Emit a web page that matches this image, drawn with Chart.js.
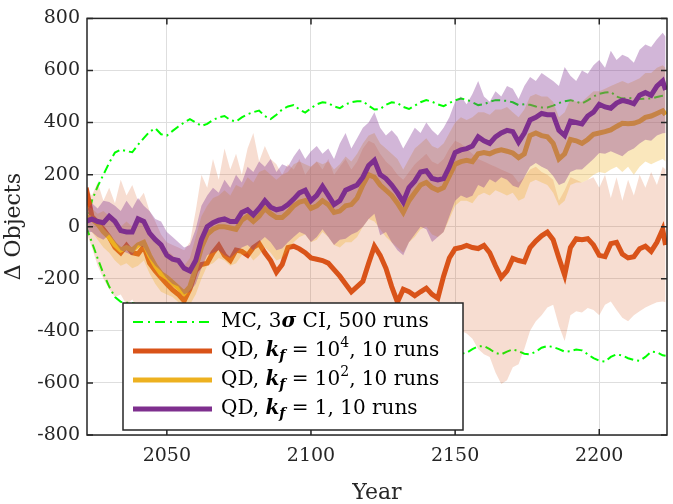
<!DOCTYPE html>
<html>
<head>
<meta charset="utf-8">
<script src="https://cdn.jsdelivr.net/npm/chart.js@4.4.1/dist/chart.umd.min.js"></script>
<style>
  html, body { margin: 0; padding: 0; background: #fff; }
  #wrap { width: 673px; height: 504px; }
</style>
</head>
<body>
<div id="wrap"><canvas id="grafico"></canvas></div>
<script>
// Years (2-year steps, last point at 2223)
const years = [
  2022, 2024, 2026, 2028, 2030, 2032, 2034, 2036, 2038, 2040,
  2042, 2044, 2046, 2048, 2050, 2052, 2054, 2056, 2058, 2060,
  2062, 2064, 2066, 2068, 2070, 2072, 2074, 2076, 2078, 2080,
  2082, 2084, 2086, 2088, 2090, 2092, 2094, 2096, 2098, 2100,
  2102, 2104, 2106, 2108, 2110, 2112, 2114, 2116, 2118, 2120,
  2122, 2124, 2126, 2128, 2130, 2132, 2134, 2136, 2138, 2140,
  2142, 2144, 2146, 2148, 2150, 2152, 2154, 2156, 2158, 2160,
  2162, 2164, 2166, 2168, 2170, 2172, 2174, 2176, 2178, 2180,
  2182, 2184, 2186, 2188, 2190, 2192, 2194, 2196, 2198, 2200,
  2202, 2204, 2206, 2208, 2210, 2212, 2214, 2216, 2218, 2220,
  2222, 2223
];

// MC 3-sigma confidence interval
const mcSuperior = [
  0, 100, 155, 200, 245, 285, 296, 290, 286, 315,
  340, 365, 378, 355, 350, 368, 385, 400, 413, 400,
  387, 395, 410, 420, 425, 410, 404, 420, 432, 440,
  446, 425, 413, 430, 450, 462, 467, 450, 438, 455,
  470, 478, 475, 462, 455, 470, 478, 482, 482, 465,
  450, 452, 468, 478, 475, 460, 452, 465, 478, 486,
  480, 470, 463, 475, 485, 492, 488, 478, 467, 470,
  480, 486, 485, 483, 478, 467, 470, 468, 462, 458,
  458, 465, 475, 482, 486, 480, 473, 485, 500, 510,
  515, 518, 500, 492, 495, 492, 490, 492, 492, 498,
  503, 505
];
const mcInferior = [
  0, -60, -122, -180, -230, -270, -288, -292, -293, -300,
  -330, -350, -360, -370, -375, -385, -395, -405, -410, -405,
  -400, -410, -420, -425, -420, -415, -425, -435, -440, -445,
  -440, -430, -440, -455, -460, -455, -450, -460, -470, -470,
  -465, -470, -480, -485, -475, -470, -475, -485, -490, -480,
  -470, -475, -485, -490, -485, -475, -480, -490, -495, -488,
  -480, -485, -495, -500, -495, -488, -484, -470, -460, -458,
  -470, -485, -490, -480, -471, -478, -488, -490, -480, -465,
  -458, -462, -470, -480, -478, -472, -475, -490, -505, -515,
  -518, -500, -490, -495, -505, -512, -515, -500, -480, -482,
  -494, -496
];

// QD, kf = 10^4
const qd1e4 = [
  150, 40, 15, -10, -40, -80, -100, -72, -100, -105,
  -75, -140, -170, -195, -220, -243, -260, -285, -240, -170,
  -145, -140, -100, -72, -110, -130, -90, -95, -110, -80,
  -65, -100, -130, -175, -145, -80, -75, -85, -100, -120,
  -125, -130, -140, -165, -190, -220, -250, -230, -210, -140,
  -75, -110, -160, -230, -290, -240, -250, -265, -250, -236,
  -260, -275, -190, -120, -85, -80, -72, -80, -84, -72,
  -100, -150, -195, -170, -122, -130, -135, -80, -55, -35,
  -21, -50, -120, -186, -80, -46, -50, -46, -70, -110,
  -115, -65, -60, -105, -120, -115, -85, -75, -95, -60,
  -10, -70
];
const qd1e4Sup = [
  150, 120, 170, 100, 150, 90, 180, 120, 160, 100,
  130, 60, 20, -30, -60, -70, -80, -90, -60, 60,
  200, 150, 260, 180, 300, 220, 280, 200, 300, 360,
  250, 310, 260, 240, 200, 240, 220, 260, 200, 230,
  250, 220, 260, 200, 230, 260, 220, 250, 300, 330,
  320, 280, 250, 230, 200, 180, 210, 240, 260, 280,
  250, 240, 260, 300, 330, 320, 300, 280, 260, 250,
  240, 230, 220, 210, 200, 170, 190, 220, 230, 210,
  200, 180, 100, 140, 190, 180, 170, 180, 190, 150,
  200, 110, 190, 100, 180, 120, 200, 150, 210, 160,
  230, 220
];
const qd1e4Inf = [
  -20, -80, -150, -200, -240, -270, -260, -300, -280, -320,
  -310, -330, -350, -360, -380, -400, -410, -420, -400, -380,
  -370, -360, -350, -360, -370, -380, -360, -370, -380, -370,
  -360, -380, -400, -420, -410, -380, -370, -380, -390, -400,
  -410, -420, -430, -450, -470, -490, -510, -500, -480, -440,
  -400, -420, -450, -490, -520, -500, -510, -520, -510, -500,
  -510, -520, -480, -440, -420, -400, -410, -430, -470, -490,
  -500, -560, -604, -590, -540, -528, -470, -400, -363, -340,
  -310, -300, -380, -439, -340, -325, -330, -312, -320, -340,
  -300, -287, -320, -350, -363, -340, -325, -310, -300, -290,
  -287, -290
];

// QD, kf = 10^2
const qd1e2 = [
  40, 30, 10, -20, -40, -70, -90, -80, -90, -70,
  -60, -110, -150, -180, -195, -215, -235, -255, -230, -160,
  -80, -30, -10, 0, 0, -5, -10, 25, 40, 20,
  40, 70, 50, 35, 35, 55, 80, 95, 100, 70,
  80, 100, 85, 55, 60, 80, 85, 110, 160, 200,
  190, 160, 140, 120, 90, 55, 100, 130, 160, 170,
  150, 140, 150, 195, 240, 250, 255, 250, 280, 285,
  280, 290, 295, 290, 283, 265, 280, 350, 360, 350,
  345, 320, 260, 280, 335, 330, 320, 335, 355, 360,
  365, 372, 385, 397, 395, 397, 405, 420, 425, 435,
  445, 430
];
const qd1e2Sup = [
  80, 70, 50, 60, 40, 20, 0, 20, 0, 30,
  20, -20, -50, -70, -90, -110, -130, -150, -120, -40,
  40, 80, 110, 120, 140, 120, 160, 150, 190, 170,
  210, 220, 200, 180, 200, 210, 240, 250, 240, 230,
  250, 240, 250, 220, 240, 270, 250, 280, 320, 350,
  360, 320, 300, 280, 260, 220, 260, 300, 320, 340,
  310, 300, 320, 360, 400, 420, 410, 420, 440, 440,
  430, 450, 450, 460, 440, 420, 450, 500, 510, 500,
  500, 480, 420, 440, 490, 480, 480, 500, 520, 520,
  530, 540, 550, 560, 550, 560, 570, 590, 590, 610,
  620, 610
];
const qd1e2Inf = [
  0, -20, -50, -80, -100, -130, -150, -140, -160, -150,
  -130, -180, -220, -250, -260, -270, -290, -310, -300, -260,
  -200, -150, -140, -120, -130, -150, -140, -110, -100, -130,
  -110, -80, -100, -130, -120, -90, -60, -40, -30, -60,
  -50, -20, -40, -70, -80, -60, -60, -40, 0, 30,
  20, -10, -40, -60, -80, -100, -60, -40, -10, 0,
  -30, -40, -20, 30, 80, 100, 100, 90, 120, 130,
  120, 140, 130, 120, 130, 100, 110, 170, 180, 170,
  160, 130, 80, 100, 160, 170, 170, 180, 200, 210,
  205, 220, 230, 210, 230, 200, 230, 250, 240, 250,
  260, 250
];

// QD, kf = 1
const qd1 = [
  20, 30, 20, 15, 40, 20, -15, -20, -20, 30,
  20, -25, -50, -70, -110, -125, -130, -160, -170, -130,
  -50, 0, 15, 25, 30, 20, 20, 55, 65, 45,
  70, 100, 75, 65, 70, 85, 106, 130, 140, 100,
  120, 155, 120, 85, 100, 140, 150, 160, 190, 235,
  255, 200, 185, 160, 130, 95, 150, 175, 210, 215,
  185, 180, 185, 230, 285, 295, 300, 310, 345, 330,
  320, 345, 360, 370, 365, 325, 360, 410, 420, 435,
  430, 430, 370, 350, 405, 400, 395, 425, 440, 470,
  460, 455, 475, 485, 480, 472, 505, 515, 505, 540,
  560, 525
];
const qd1Sup = [
  60, 90, 70, 100, 95, 80, 60, 100, 70, 110,
  80, 60, 30, 20, -20, -40, -60, -80, -70, -10,
  80, 120, 150, 130, 180, 150, 200, 170, 230, 210,
  250, 230, 260, 210, 240, 230, 270, 300, 260, 290,
  310, 280, 300, 260, 320, 360, 300, 340, 380, 400,
  440, 380, 350, 370, 345, 300, 340, 380, 360, 400,
  370, 350, 380, 420, 480, 500, 470, 510, 560, 500,
  480, 520, 500, 540, 530, 490, 540, 575, 560, 590,
  575, 560, 540, 613, 580, 560, 600, 587, 620, 640,
  610, 676, 640, 660, 651, 630, 680, 700, 690, 720,
  745, 730
];
const qd1Inf = [
  -20, -20, -40, -50, -30, -60, -90, -100, -110, -70,
  -80, -120, -150, -170, -200, -220, -230, -260, -250, -220,
  -160, -110, -100, -90, -110, -120, -100, -80, -70, -90,
  -60, -40, -60, -90, -84, -60, -40, -20, -30, -59,
  -40, -10, -40, -70, -50, -46, -30, -20, 0, 30,
  50, -33, -20, -60, -90, -110, -60, -30, 0, -10,
  -59, -40, -20, 40, 100, 120, 110, 119, 160, 150,
  182, 170, 190, 180, 157, 150, 190, 230, 245, 230,
  220, 195, 160, 170, 210, 220, 220, 240, 260, 283,
  280, 290, 280, 271, 290, 300, 320, 334, 330, 350,
  359, 360
];

const xTicks = [2050, 2100, 2150, 2200];
const yTicks = [-800, -600, -400, -200, 0, 200, 400, 600, 800];

const SERIF = '"DejaVu Serif", "Liberation Serif", serif';
const EJE = '#262626';
const NARANJA = '#D95319';
const AMARILLO = '#EDB120';
const MORADO = '#7E2F8E';
const VERDE = '#00FF00';

function pts(ys) {
  return ys.map((y, i) => ({ x: years[i], y: y }));
}

function linea(data, color, order) {
  return {
    data: pts(data), borderColor: color, borderWidth: 5, pointRadius: 0,
    fill: false, tension: 0, order: order, clip: 0
  };
}

function banda(data, color, target, order) {
  return {
    data: pts(data), borderWidth: 0, borderColor: 'rgba(0,0,0,0)', pointRadius: 0,
    backgroundColor: color, fill: target, tension: 0, order: order, clip: 0
  };
}

const datasets = [
  linea(qd1, MORADO, 0),                                   // 0
  banda(qd1Sup, 'rgba(126,47,142,0.35)', 2, 1),            // 1
  banda(qd1Inf, 'rgba(0,0,0,0)', false, 1),                // 2
  linea(qd1e2, AMARILLO, 2),                               // 3
  banda(qd1e2Sup, 'rgba(237,177,32,0.3)', 5, 3),           // 4
  banda(qd1e2Inf, 'rgba(0,0,0,0)', false, 3),              // 5
  linea(qd1e4, NARANJA, 4),                                // 6
  banda(qd1e4Sup, 'rgba(217,83,25,0.2)', 8, 5),            // 7
  banda(qd1e4Inf, 'rgba(0,0,0,0)', false, 5),              // 8
  { data: pts(mcSuperior), borderColor: VERDE, borderWidth: 2, borderDash: [9, 4, 2, 4],
    pointRadius: 0, fill: false, order: 6, clip: 0 },      // 9
  { data: pts(mcInferior), borderColor: VERDE, borderWidth: 2, borderDash: [9, 4, 2, 4],
    pointRadius: 0, fill: false, order: 6, clip: 0 }       // 10
];

// Box around the axes and inward tick marks
const marco = {
  id: 'marco',
  afterDraw(chart) {
    const { ctx, chartArea: a, scales } = chart;
    ctx.save();
    ctx.strokeStyle = EJE;
    ctx.lineWidth = 1.5;
    ctx.beginPath();
    xTicks.forEach(v => {
      const px = scales.x.getPixelForValue(v);
      ctx.moveTo(px, a.bottom); ctx.lineTo(px, a.bottom - 6);
      ctx.moveTo(px, a.top); ctx.lineTo(px, a.top + 6);
    });
    yTicks.forEach(v => {
      const py = scales.y.getPixelForValue(v);
      ctx.moveTo(a.left, py); ctx.lineTo(a.left + 6, py);
      ctx.moveTo(a.right, py); ctx.lineTo(a.right - 6, py);
    });
    ctx.stroke();
    ctx.strokeRect(a.left, a.top, a.right - a.left, a.bottom - a.top);
    ctx.restore();
  }
};

function textoRico(ctx, x, y, partes) {
  partes.forEach(p => {
    ctx.font = p.f;
    ctx.fillText(p.t, x, y + (p.dy || 0));
    x += ctx.measureText(p.t).width;
  });
}

// Legend box inside the plot
const leyenda = {
  id: 'leyenda',
  afterDraw(chart) {
    const ctx = chart.ctx;
    const R = '20px ' + SERIF;
    const BI = 'italic bold 20px ' + SERIF;
    const BIs = 'italic bold 14px ' + SERIF;
    const Rs = '14px ' + SERIF;
    const bx = 123, by = 303, bw = 340, bh = 127;
    ctx.save();
    ctx.fillStyle = '#fff';
    ctx.fillRect(bx, by, bw, bh);
    ctx.strokeStyle = EJE;
    ctx.lineWidth = 1.5;
    ctx.strokeRect(bx, by, bw, bh);

    const filas = [
      { y: 322, color: VERDE, w: 2, dash: [10, 5, 2, 5],
        partes: [{ t: 'MC, 3', f: R }, { t: 'σ', f: BI }, { t: ' CI, 500 runs', f: R }] },
      { y: 351, color: NARANJA, w: 5, dash: [],
        partes: [{ t: 'QD, ', f: R }, { t: 'k', f: BI }, { t: 'f', f: BIs, dy: 5 },
                 { t: ' = 10', f: R }, { t: '4', f: Rs, dy: -8 }, { t: ', 10 runs', f: R }] },
      { y: 380, color: AMARILLO, w: 5, dash: [],
        partes: [{ t: 'QD, ', f: R }, { t: 'k', f: BI }, { t: 'f', f: BIs, dy: 5 },
                 { t: ' = 10', f: R }, { t: '2', f: Rs, dy: -8 }, { t: ', 10 runs', f: R }] },
      { y: 409, color: MORADO, w: 5, dash: [],
        partes: [{ t: 'QD, ', f: R }, { t: 'k', f: BI }, { t: 'f', f: BIs, dy: 5 },
                 { t: ' = 1, 10 runs', f: R }] }
    ];
    filas.forEach(f => {
      ctx.strokeStyle = f.color;
      ctx.lineWidth = f.w;
      ctx.setLineDash(f.dash);
      ctx.beginPath();
      ctx.moveTo(133, f.y); ctx.lineTo(212, f.y);
      ctx.stroke();
      ctx.setLineDash([]);
      ctx.fillStyle = '#000';
      ctx.textBaseline = 'middle';
      ctx.textAlign = 'left';
      textoRico(ctx, 221, f.y, f.partes);
    });
    ctx.restore();
  }
};

new Chart(document.getElementById('grafico'), {
  type: 'line',
  data: { datasets: datasets },
  options: {
    responsive: true,
    maintainAspectRatio: false,
    animation: false,
    events: [],
    layout: { padding: { left: 0, top: 14, right: 6, bottom: 0 } },
    plugins: { legend: { display: false }, tooltip: { enabled: false } },
    scales: {
      x: {
        type: 'linear', min: 2022.3, max: 2223.5,
        afterFit: s => { s.height = 69; },
        afterBuildTicks: s => { s.ticks = xTicks.map(v => ({ value: v })); },
        grid: { color: '#dedede', lineWidth: 1, drawTicks: false },
        border: { display: false },
        ticks: { color: EJE, padding: 10, maxRotation: 0, font: { family: SERIF, size: 19 },
                 callback: v => String(v) },
        title: { display: true, text: 'Year', color: EJE, padding: 0,
                 font: { family: SERIF, size: 22, lineHeight: 1 } }
      },
      y: {
        min: -800, max: 800,
        afterFit: s => { s.width = 87; },
        afterBuildTicks: s => { s.ticks = yTicks.map(v => ({ value: v })); },
        grid: { color: '#dedede', lineWidth: 1, drawTicks: false },
        border: { display: false },
        ticks: { color: EJE, padding: 7, font: { family: SERIF, size: 19 },
                 callback: v => String(v) },
        title: { display: true, text: 'Δ Objects', color: EJE, padding: { top: 3, bottom: 0 },
                 font: { family: SERIF, size: 22, lineHeight: 1 } }
      }
    }
  },
  plugins: [marco, leyenda]
});
</script>
</body>
</html>
